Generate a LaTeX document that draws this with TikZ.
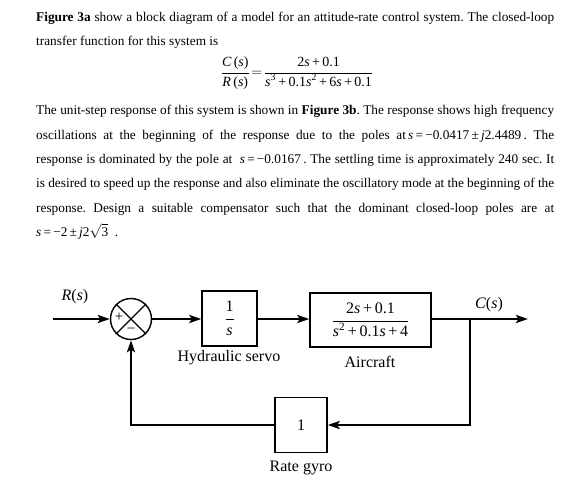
\documentclass[tikz,border=0pt]{standalone}
\usepackage{fontspec}
\setmainfont{Liberation Serif}
\usetikzlibrary{arrows.meta}
\newcommand{\fl}[1]{\makebox[518pt][s]{#1}}
\frenchspacing
\begin{document}
\begin{tikzpicture}[x=1pt,y=-1pt,
  txt/.style={anchor=base west, inner sep=0pt, font=\fontsize{13.3}{15}\selectfont},
  blk/.style={draw, line width=1.4pt, inner sep=0pt, font=\fontsize{16}{18}\selectfont},
  wire/.style={line width=2.8pt, line join=miter},
  sig/.style={wire, -{Stealth[length=12pt,width=8pt,inset=2.5pt]}},
  lbl/.style={inner sep=0pt, font=\fontsize{16}{18}\selectfont}
]
\useasboundingbox (0,0) rectangle (573,483);
% ---------- text ----------
\node[txt] (l1) at (36,21) {\fl{\textbf{Figure 3a} show a block diagram of a model for an attitude-rate control system. The closed-loop}};
\node[txt] (l2) at (36,45) {transfer function for this system is};
\node[inner sep=0pt, font=\fontsize{14}{16}\selectfont] (eq) at (297,73)
  {$\displaystyle\frac{\mbox{\textit{C}\,(\textit{s})}}{\mbox{\textit{R}\,(\textit{s})}}\!=\!\frac{\mbox{2\textit{s}\,+\,0.1}}{\mbox{\textit{s}\textsuperscript{3}\,+\,0.1\textit{s}\textsuperscript{2}\,+\,6\textit{s}\,+\,0.1}}$};
\node[txt] (l3) at (36,114) {\fl{The unit-step response of this system is shown in \textbf{Figure 3b}. The response shows high frequency}};
\node[txt] (l4) at (36,139) {\fl{oscillations at the beginning of the response due to the poles at\,\textit{s}\,=\,−0.0417\,±\,\textit{j}2.4489\,. The}};
\node[txt] (l5) at (36,163) {\fl{response is dominated by the pole at \ \textit{s}\,=\,−0.0167\,. The settling time is approximately 240 sec. It}};
\node[txt] (l6) at (36,187) {\fl{is desired to speed up the response and also eliminate the oscillatory mode at the beginning of the}};
\node[txt] (l7) at (36,212) {\fl{response. Design a suitable compensator such that the dominant closed-loop poles are at}};
\node[txt] (l8) at (36,236) {\textit{s}\,=\,−2\,±\,\textit{j}2$\sqrt{\mbox{3}}$\ \ .};
% ---------- diagram ----------
\node[circle, draw, line width=1.4pt, minimum size=41pt, inner sep=0pt] (sum) at (131,319) {};
\draw[line width=1.4pt] (sum.north west) -- (sum.south east);
\draw[line width=1.4pt] (sum.north east) -- (sum.south west);
\node[inner sep=0pt, font=\fontsize{15}{15}\selectfont] (plus) at (119,317) {+};
\node[inner sep=0pt, font=\fontsize{15}{15}\selectfont] (minus) at (131,331) {−};
\node[blk, minimum width=55pt, minimum height=55pt] (servo) at (229.5,318.5)
  {$\displaystyle\frac{\mbox{1}}{\mbox{\textit{s}}}$};
\node[blk, minimum width=121pt, minimum height=54pt] (air) at (370.5,320)
  {$\displaystyle\frac{\mbox{2\textit{s}\,+\,0.1}}{\mbox{\textit{s}\textsuperscript{2}\,+\,0.1\textit{s}\,+\,4}}$};
\node[blk, minimum width=52pt, minimum height=55pt] (gyro) at (301,425) {1};
\node[lbl] (rlab) at (75,297) {\textit{R}(\textit{s})};
\node[lbl] (clab) at (489,305) {\textit{C}(\textit{s})};
\node[lbl] (servolab) at (229,358) {Hydraulic servo};
\node[lbl] (airlab) at (370,362) {Aircraft};
\node[lbl] (gyrolab) at (301,468) {Rate gyro};
\coordinate (in) at (53,319);
\coordinate (br) at (470,319);
\coordinate (out) at (528,319);
\coordinate (fbR) at (470,425);
\coordinate (fbL) at (131,425);
\draw[sig] (in) -- (sum.west);
\draw[sig] (sum.east) -- (servo.west |- sum.east);
\draw[sig] (servo.east |- sum.east) -- (air.west |- sum.east);
\draw[wire] (air.east |- br) -- (br);
\draw[sig] (br) -- (out);
\draw[sig] (br) -- (fbR) -- (gyro.east);
\draw[sig] (gyro.west) -- (fbL) -- (sum.south);
\end{tikzpicture}
\end{document}
